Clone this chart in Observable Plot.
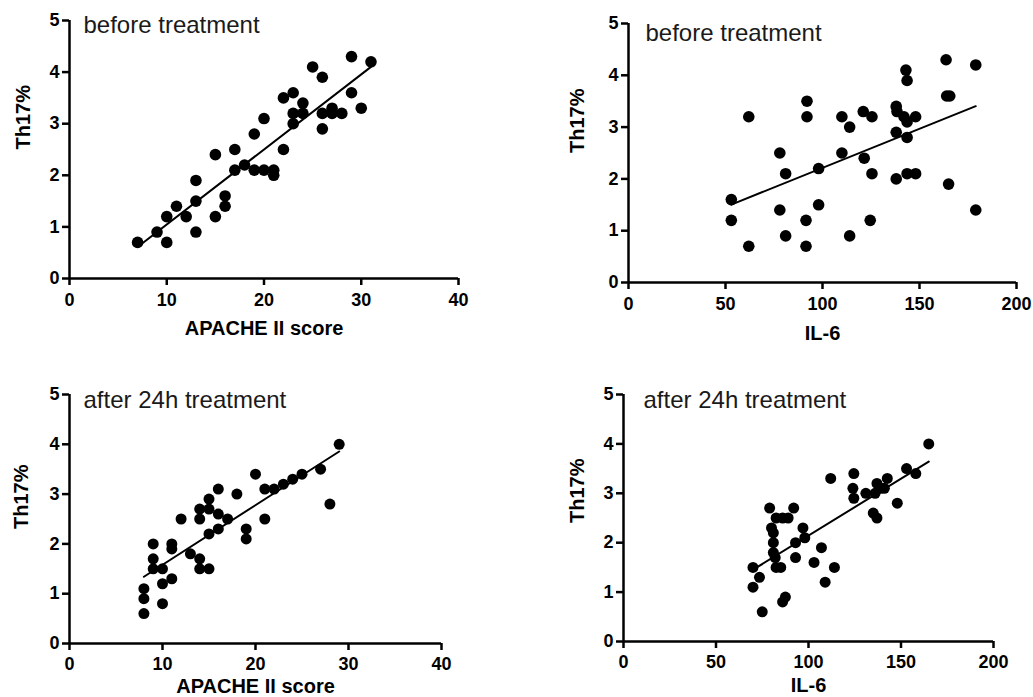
<!DOCTYPE html>
<html><head><meta charset="utf-8">
<script src="https://cdn.jsdelivr.net/npm/d3@7"></script>
<script src="https://cdn.jsdelivr.net/npm/@observablehq/plot@0.6"></script>
<style>
html,body{margin:0;padding:0;background:#fff;}
#root{position:relative;width:1033px;height:697px;overflow:hidden;font-family:"Liberation Sans",Arial,sans-serif;}
#root svg{position:absolute;}
</style></head><body><div id="root"></div>
<script>
const panelTitles = ["before treatment", "before treatment", "after 24h treatment", "after 24h treatment"];
const xLabels = ["APACHE II score", "IL-6", "APACHE II score", "IL-6"];
const yLabel = "Th17%";
const apacheTicks = [0, 10, 20, 30, 40];
const il6Ticks = [0, 50, 100, 150, 200];
const th17Ticks = [0, 1, 2, 3, 4, 5];

// before treatment: APACHE II score vs Th17%
const apacheBefore = [7,9,10,10,11,12,13,13,13,15,15,16,16,17,17,18,19,19,20,20,21,21,22,22,23,23,23,24,24,25,26,26,26,27,27,28,29,29,30,31];
const th17ApacheBefore = [0.7,0.9,0.7,1.2,1.4,1.2,0.9,1.5,1.9,1.2,2.4,1.6,1.4,2.5,2.1,2.2,2.1,2.8,2.1,3.1,2.1,2.0,2.5,3.5,3.6,3.2,3.0,3.4,3.2,4.1,3.9,3.2,2.9,3.3,3.2,3.2,4.3,3.6,3.3,4.2];

// before treatment: IL-6 vs Th17%
const il6Before = [53,53,62,62,78,78,81,81,92,92,91.5,91.5,98,98,110,110,114,114,121,121.5,125.5,125.5,124.6,138,138.4,138,138,143,143.6,142,143.6,143.6,143.6,148,148,163.7,164,165.6,165,179,179];
const th17Il6Before = [1.6,1.2,3.2,0.7,2.5,1.4,2.1,0.9,3.5,3.2,1.2,0.7,2.2,1.5,3.2,2.5,3.0,0.9,3.3,2.4,3.2,2.1,1.2,3.4,3.3,2.9,2.0,4.1,3.9,3.2,3.1,2.8,2.1,3.2,2.1,4.3,3.6,3.6,1.9,4.2,1.4];

// after 24h treatment: APACHE II score vs Th17%
const apacheAfter = [8,8,8,9,9,9,10,10,10,11,11,11,12,13,14,14,14,14,15,15,15,15,16,16,16,17,18,19,19,20,21,21,22,23,24,25,27,28,29];
const th17ApacheAfter = [0.6,0.9,1.1,2.0,1.7,1.5,1.5,1.2,0.8,2.0,1.9,1.3,2.5,1.8,2.7,2.5,1.7,1.5,2.9,2.7,2.2,1.5,3.1,2.6,2.3,2.5,3.0,2.3,2.1,3.4,3.1,2.5,3.1,3.2,3.3,3.4,3.5,2.8,4.0];

// after 24h treatment: IL-6 vs Th17%
const il6After = [70,70,73.5,75,79,80,81,81,81,82,82.5,85,82.5,86,89,86,87.5,92,93,93,97,98,103,107,109,112,114,124.5,124,124.5,131,135,137,136,137,139,141,142.6,148,153,158,165];
const th17Il6After = [1.5,1.1,1.3,0.6,2.7,2.3,2.2,2.0,1.8,1.7,1.5,1.5,2.5,2.5,2.5,0.8,0.9,2.7,2.0,1.7,2.3,2.1,1.6,1.9,1.2,3.3,1.5,3.4,3.1,2.9,3.0,2.6,2.5,3.0,3.2,3.1,3.1,3.3,2.8,3.5,3.4,4.0];

const FONT = '"Liberation Sans", Arial, Helvetica, sans-serif';

function panel(cfg) {
  const data = cfg.x.map((v, i) => ({x: v, y: cfg.y[i]}));
  const [mt, mr, mb, ml] = cfg.m;
  const fig = Plot.plot({
    width: cfg.width, height: cfg.height,
    marginTop: mt, marginRight: mr, marginBottom: mb, marginLeft: ml,
    style: {fontFamily: FONT, background: "transparent", overflow: "visible", color: "#000"},
    x: {domain: [cfg.xTicks[0], cfg.xTicks[cfg.xTicks.length - 1]]},
    y: {domain: [th17Ticks[0], th17Ticks[th17Ticks.length - 1]]},
    marks: [
      Plot.axisX({ticks: cfg.xTicks, tickSize: 7, tickPadding: cfg.xPad, fontSize: 18, fontWeight: "bold", strokeWidth: 2.5, label: null, tickFormat: d => String(d)}),
      Plot.axisY({ticks: th17Ticks, tickSize: 7, tickPadding: 3, fontSize: 18, fontWeight: "bold", strokeWidth: 2.5, label: null, tickFormat: d => String(d)}),
      Plot.ruleX([cfg.xTicks[0]], {stroke: "#000", strokeWidth: 2.5}),
      Plot.ruleY([0], {stroke: "#000", strokeWidth: 2.5}),
      Plot.linearRegressionY(data, {x: "x", y: "y", ci: 0, stroke: "#000", strokeWidth: 2}),
      Plot.dot(data, {x: "x", y: "y", r: cfg.r, fill: "#000", stroke: "none"}),
      Plot.text([cfg.title], {frameAnchor: "top-left", textAnchor: "start", lineAnchor: "bottom", dx: cfg.tdx, dy: cfg.tdy, fontSize: 24, fill: "#1a1a1a"}),
      Plot.text([cfg.xLabel], {frameAnchor: "bottom", lineAnchor: "top", dy: cfg.xldy, fontSize: 20, fontWeight: "bold", fill: "#000"}),
      Plot.text([yLabel], {frameAnchor: "left", rotate: -90, lineAnchor: "top", dx: cfg.yldx, dy: cfg.yldy, fontSize: 20, fontWeight: "bold", fill: "#000"})
    ]
  });
  fig.style.left = cfg.left + "px";
  fig.style.top = cfg.top + "px";
  document.getElementById("root").appendChild(fig);
}

panel({x: apacheBefore, y: th17ApacheBefore, xTicks: apacheTicks, title: panelTitles[0], xLabel: xLabels[0],
  left: 0, top: 0, width: 500, height: 345, m: [20, 42, 67, 69], r: 5.8, xPad: 8,
  tdx: 14, tdy: 12, xldy: 42, yldx: -54, yldy: 0});
panel({x: il6Before, y: th17Il6Before, xTicks: il6Ticks, title: panelTitles[1], xLabel: xLabels[1],
  left: 540, top: 0, width: 493, height: 345, m: [23, 17, 63, 88], r: 5.8, xPad: 8,
  tdx: 17, tdy: 17, xldy: 43, yldx: -59, yldy: 0});
panel({x: apacheAfter, y: th17ApacheAfter, xTicks: apacheTicks, title: panelTitles[2], xLabel: xLabels[2],
  left: 0, top: 360, width: 500, height: 337, m: [34, 59, 54, 69], r: 5.5, xPad: 7,
  tdx: 14, tdy: 13, xldy: 35, yldx: -56, yldy: 10});
panel({x: il6After, y: th17Il6After, xTicks: il6Ticks, title: panelTitles[3], xLabel: xLabels[3],
  left: 540, top: 360, width: 493, height: 337, m: [34, 40, 56, 83], r: 5.5, xPad: 7,
  tdx: 20, tdy: 13, xldy: 36, yldx: -54, yldy: 5});
</script>
</body></html>
